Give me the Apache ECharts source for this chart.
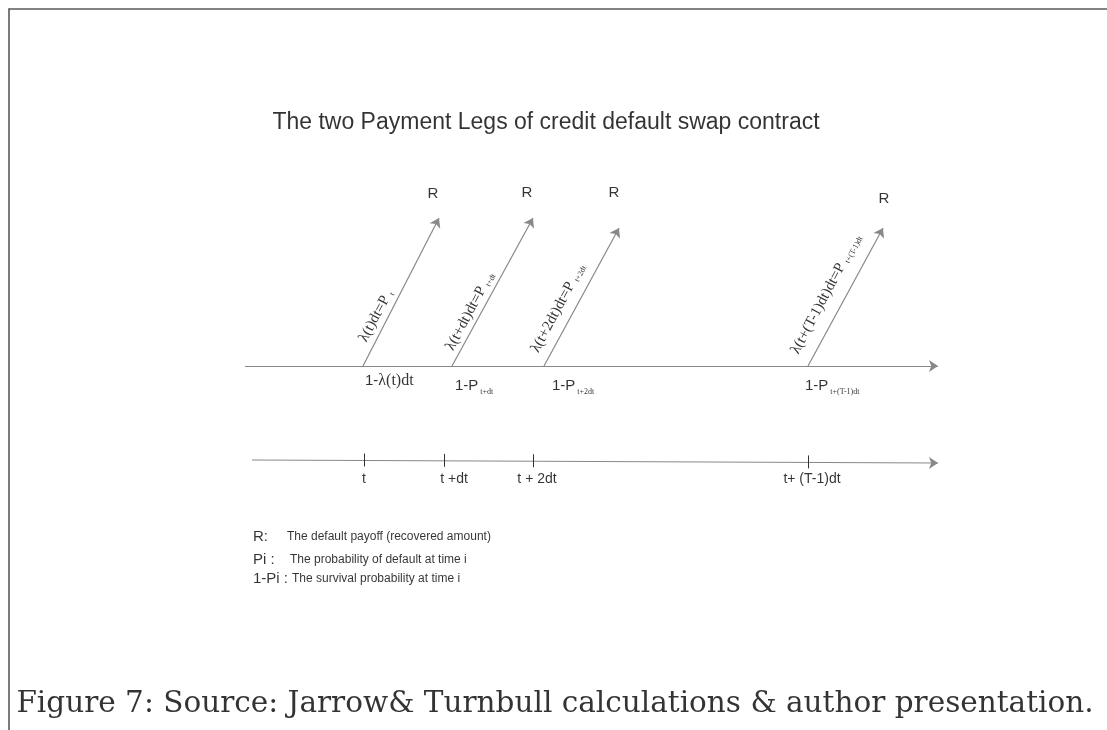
<!DOCTYPE html>
<html>
<head>
<meta charset="utf-8">
<script src="https://cdn.jsdelivr.net/npm/echarts@6/dist/echarts.min.js"></script>
<style>html,body{margin:0;padding:0;background:#fff}#c{width:1107px;height:730px}</style>
</head>
<body>
<div id="c"></div>
<script>
// ---- data (diagram units = page grid units) ----
var titleText = 'The two Payment Legs of credit default swap contract';
var captionText = 'Figure 7: Source: Jarrow& Turnbull calculations & author presentation.';
// payment leg arrows: start on upper timeline, end at recovery R
var legStartX = [363, 452, 544, 808];
var legEndX = [439, 533, 619, 883];
var legEndY = [218, 218, 228, 228];
var upperAxisY = 366;
var upperAxisX = [245, 938];
var lowerAxisX = [252, 938];
var lowerAxisY = [460, 463];
var tickX = [364, 444, 533, 808];
var tickLabels = ['t', 't +dt', 't + 2dt', 't+ (T-1)dt'];
var tickLabelX = [364, 454, 537, 812];
var recoveryLabelPos = [[433, 194], [527, 193], [614, 193], [884, 199]];
var hazardLabels = [
  '{m|λ(t)dt=P}{s|t}',
  '{m|λ(t+dt)dt=P}{s|t+dt}',
  '{m|λ(t+2dt)dt=P}{s|t+2dt}',
  '{m|λ(t+(T-1)dt)dt=P}{s|t+(T-1)dt}'
];
var hazardLabelPos = [[376, 316], [470, 311], [558, 308], [826, 294]];
var survivalLabels = [
  '{a|1-}{m|λ(t)dt}',
  '{a|1-P}{s|t+dt}',
  '{a|1-P}{s|t+2dt}',
  '{a|1-P}{s|t+(T-1)dt}'
];
var survivalLabelPos = [[365, 381], [455, 386], [552, 386], [805, 386]];
var legendKeys = ['R:', 'Pi :', '1-Pi :'];
var legendDescs = ['The default payoff (recovered amount)', 'The probability of default at time i', 'The survival probability at time i'];
var legendKeyPos = [[253, 537], [253, 560], [253, 579]];
var legendDescX = [287, 290, 292];

// ---- build ----
var SANS = 'Liberation Sans, Arial, sans-serif';
var SERIF = 'Liberation Serif, Times New Roman, serif';
var CAPSERIF = 'DejaVu Serif, serif';
var gray = '#888888';
var ink = '#000';

var arrowData = [];
arrowData.push({coords: [[upperAxisX[0], upperAxisY], [upperAxisX[1], upperAxisY]]});
arrowData.push({coords: [[lowerAxisX[0], lowerAxisY[0]], [lowerAxisX[1], lowerAxisY[1]]]});
for (var i = 0; i < legStartX.length; i++) {
  arrowData.push({coords: [[legStartX[i], upperAxisY], [legEndX[i], legEndY[i]]]});
}
function lowerY(x) {
  return lowerAxisY[0] + (lowerAxisY[1] - lowerAxisY[0]) * (x - lowerAxisX[0]) / (lowerAxisX[1] - lowerAxisX[0]);
}
var tickData = tickX.map(function (x) {
  var y = lowerY(x);
  return {coords: [[x, y - 7], [x, y + 6]]};
});
var frameData = [
  {coords: [[8.5, 8.5], [1107, 8.5]]},
  {coords: [[8.5, 8.5], [8.5, 730]]}
];

function textSeries(points, texts, labelOpt) {
  return {
    type: 'scatter', symbolSize: 0, silent: true,
    data: points.map(function (p, i) { return {value: p, name: texts[i]}; }),
    label: Object.assign({show: true, position: 'inside', formatter: function (d) { return d.name; }}, labelOpt),
    z: 5
  };
}

var series = [
  {type: 'lines', coordinateSystem: 'cartesian2d', data: frameData, silent: true,
   lineStyle: {color: '#5a5a5a', width: 1.6, opacity: 1}, symbol: ['none', 'none']},
  {type: 'lines', coordinateSystem: 'cartesian2d', data: arrowData, silent: true,
   lineStyle: {color: gray, width: 1.2, opacity: 1}, symbol: ['none', 'arrow'], symbolSize: 9},
  {type: 'lines', coordinateSystem: 'cartesian2d', data: tickData, silent: true,
   lineStyle: {color: '#333', width: 1, opacity: 1}, symbol: ['none', 'none']},
  textSeries([[546, 123]], [titleText], {align: 'center', verticalAlign: 'middle', fontFamily: SANS, fontSize: 23, color: ink}),
  textSeries(recoveryLabelPos, ['R', 'R', 'R', 'R'], {align: 'center', verticalAlign: 'middle', fontFamily: SANS, fontSize: 15, color: ink}),
  textSeries(hazardLabelPos, hazardLabels, {align: 'center', verticalAlign: 'middle', rotate: 62, color: ink,
    rich: {m: {fontFamily: SERIF, fontSize: 15, color: ink}, s: {fontFamily: SERIF, fontSize: 8, color: ink, padding: [8, 0, 0, 4]}}}),
  textSeries(survivalLabelPos, survivalLabels, {align: 'left', verticalAlign: 'middle', color: ink,
    rich: {a: {fontFamily: SANS, fontSize: 15, color: ink}, m: {fontFamily: SERIF, fontSize: 16, color: ink},
      s: {fontFamily: SERIF, fontSize: 8, color: ink, padding: [11, 0, 0, 2]}}}),
  textSeries(tickLabelX.map(function (x) { return [x, 479]; }), tickLabels, {align: 'center', verticalAlign: 'middle', fontFamily: SANS, fontSize: 14, color: ink}),
  textSeries(legendKeyPos, legendKeys, {align: 'left', verticalAlign: 'middle', fontFamily: SANS, fontSize: 15, color: ink}),
  textSeries(legendKeyPos.map(function (p, i) { return [legendDescX[i], p[1]]; }), legendDescs, {align: 'left', verticalAlign: 'middle', fontFamily: SANS, fontSize: 12, color: ink}),
  textSeries([[555, 704]], [captionText], {align: 'center', verticalAlign: 'middle', fontFamily: CAPSERIF, fontSize: 29.5, color: ink})
];

var chart = echarts.init(document.getElementById('c'), null, {renderer: 'canvas'});
chart.setOption({
  animation: false,
  backgroundColor: '#fff',
  grid: {left: 0, right: 0, top: 0, bottom: 0},
  xAxis: {type: 'value', min: 0, max: 1107, show: false},
  yAxis: {type: 'value', min: 0, max: 730, inverse: true, show: false},
  series: series
});
</script>
</body>
</html>
